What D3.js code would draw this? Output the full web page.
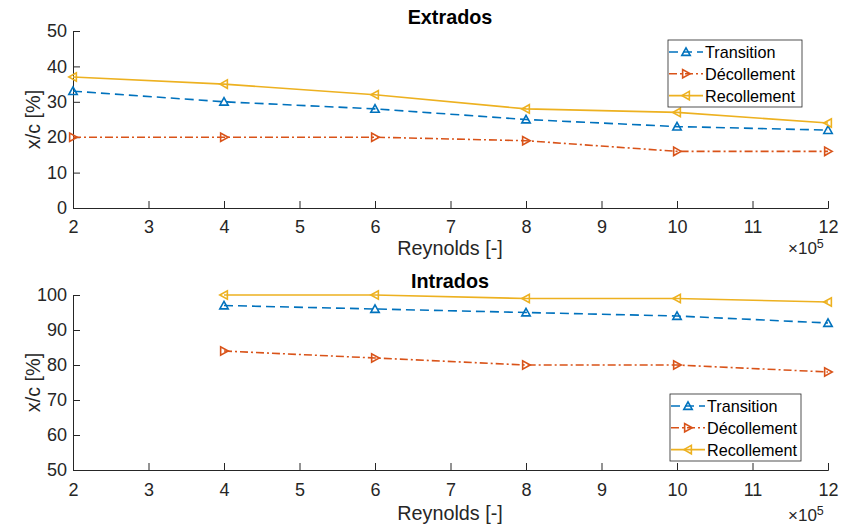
<!DOCTYPE html>
<html><head><meta charset="utf-8">
<script src="https://cdn.jsdelivr.net/npm/d3@7"></script>
<style>body{margin:0;background:#fff}svg{display:block;font-family:"Liberation Sans",Arial,sans-serif}</style>
</head><body><svg id="c" width="842" height="528"></svg>
<script>
const xTicks = [2,3,4,5,6,7,8,9,10,11,12];
const topX = [2,4,6,8,10,12];
const topTransition = [33,30,28,25,23,22];
const topDecollement = [20,20,20,19,16,16];
const topRecollement = [37,35,32,28,27,24];
const botX = [4,6,8,10,12];
const botTransition = [97,96,95,94,92];
const botDecollement = [84,82,80,80,78];
const botRecollement = [100,100,99,99,98];
const topYTicks = [0,10,20,30,40,50];
const botYTicks = [50,60,70,80,90,100];
const seriesNames = ["Transition","Décollement","Recollement"];
const colors = ["#0072BD","#D95319","#EDB120"];
const dashes = ["9,5","8,3,2,3",null];
const markerType = ["up","right","left"];

const svg = d3.select("#c");
const x = d3.scaleLinear().domain([2,12]).range([73,828]);

function marker(g, type, cx, cy, color){
  const s = 4.2;
  let pts;
  if(type==="up") pts=[[0,-s],[s,s*0.8],[-s,s*0.8]];
  else if(type==="right") pts=[[s,0],[-s*0.8,-s],[-s*0.8,s]];
  else pts=[[-s,0],[s*0.8,-s],[s*0.8,s]];
  g.append("path").attr("d","M"+pts.map(p=>[cx+p[0],cy+p[1]].join(",")).join("L")+"Z")
   .attr("fill","none").attr("stroke",color).attr("stroke-width",1.6);
}

function panel(opts){
  const y = d3.scaleLinear().domain(opts.ydom).range(opts.yrange);
  const g = svg.append("g");
  const xa = g.append("g").attr("transform",`translate(0,${opts.yrange[0]})`)
    .call(d3.axisBottom(x).tickValues(xTicks).tickSize(-7).tickPadding(opts.xpad).tickFormat(d3.format("d")));
  const ya = g.append("g").attr("transform",`translate(${x.range()[0]},0)`)
    .call(d3.axisLeft(y).tickValues(opts.yticks).tickSize(-7).tickPadding(6).tickFormat(d3.format("d")));
  [xa,ya].forEach(a=>{
    a.selectAll("path,line").attr("stroke","#262626").attr("stroke-width",1);
    a.selectAll("text").attr("fill","#262626").style("font-size","18px").style("font-family","Liberation Sans, Arial, sans-serif");
  });
  opts.series.forEach((vals,i)=>{
    const line = d3.line().x((d,j)=>x(opts.xs[j])).y(d=>y(d));
    g.append("path").datum(vals).attr("d",line).attr("fill","none")
      .attr("stroke",colors[i]).attr("stroke-width",1.6)
      .attr("stroke-dasharray",dashes[i]);
    vals.forEach((v,j)=>marker(g,markerType[i],x(opts.xs[j]),y(v),colors[i]));
  });
  g.append("text").attr("x",450).attr("y",opts.titleY).attr("text-anchor","middle")
   .style("font-size","19.8px").style("font-weight","bold").attr("fill","#000").text(opts.title);
  g.append("text").attr("x",450).attr("y",opts.xlabY).attr("text-anchor","middle")
   .style("font-size","19.8px").attr("fill","#262626").text("Reynolds [-]");
  const ex = g.append("text").attr("x",788).attr("y",opts.expY).style("font-size","17px").attr("fill","#262626");
  ex.append("tspan").text("×10");
  ex.append("tspan").attr("dy",-6).style("font-size","12.5px").text("5");
  const ym = (opts.yrange[0]+opts.yrange[1])/2;
  g.append("text").attr("transform",`translate(40,${ym}) rotate(-90)`).attr("text-anchor","middle")
   .style("font-size","19.8px").attr("fill","#262626").text("x/c [%]");
  const L = opts.legend;
  const lg = g.append("g").attr("transform",`translate(${L[0]},${L[1]})`);
  lg.append("rect").attr("width",L[2]).attr("height",L[3]).attr("fill","#fff").attr("stroke","#262626").attr("stroke-width",0.8);
  seriesNames.forEach((n,i)=>{
    const yy = 12 + i*21.8;
    lg.append("line").attr("x1",1).attr("x2",35).attr("y1",yy).attr("y2",yy)
      .attr("stroke",colors[i]).attr("stroke-width",1.6).attr("stroke-dasharray",dashes[i]);
    marker(lg,markerType[i],18,yy,colors[i]);
    lg.append("text").attr("x",37).attr("y",yy+6).style("font-size","16.2px").attr("fill","#000").text(n);
  });
}

panel({ydom:[0,50], yrange:[208,31], yticks:topYTicks, xs:topX,
  series:[topTransition,topDecollement,topRecollement], title:"Extrados", titleY:24,
  xpad:12, xlabY:255, expY:254, legend:[668,40,134,67]});
panel({ydom:[50,100], yrange:[470,295], yticks:botYTicks, xs:botX,
  series:[botTransition,botDecollement,botRecollement], title:"Intrados", titleY:288,
  xpad:13, xlabY:520, expY:521, legend:[670,394,131,67]});
</script></body></html>
